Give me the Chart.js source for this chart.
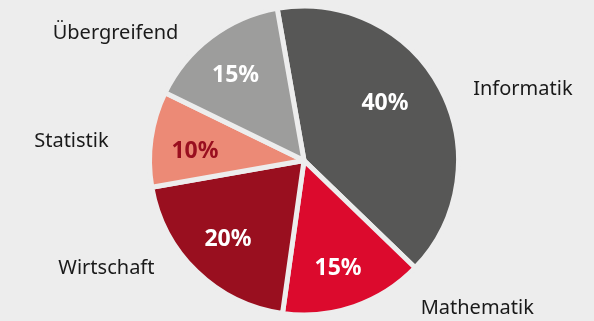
<!DOCTYPE html>
<html>
<head>
<meta charset="utf-8">
<script src="https://cdn.jsdelivr.net/npm/chart.js@4.4.0/dist/chart.umd.min.js"></script>
<style>
  html, body { margin: 0; padding: 0; background: #ededed; }
  #wrap { width: 594px; height: 321px; position: relative; }
</style>
</head>
<body>
<div id="wrap"><canvas id="pie"></canvas></div>
<script>
// data
const categories = ['Informatik', 'Mathematik', 'Wirtschaft', 'Statistik', 'Übergreifend'];
const shares = [40, 15, 20, 10, 15];

// styling
const colors = ['#575756', '#dc0a2d', '#990f1f', '#ec8a76', '#9d9d9c'];
const pctColors = ['#ffffff', '#ffffff', '#ffffff', '#990f1f', '#ffffff'];
// category label anchor, relative to pie centre in units of radius
const labelPos = [[1.44, -0.47], [1.14, 0.97], [-1.30, 0.71], [-1.53, -0.125], [-1.24, -0.84]];
// percent label: [radius fraction, angle shift in degrees]
const pctPos = [[0.65, -7], [0.745, 1.5], [0.72, 0], [0.72, -3], [0.72, -1.7]];

const labelsPlugin = {
  id: 'sliceLabels',
  afterDatasetsDraw(chart) {
    const ctx = chart.ctx;
    const arcs = chart.getDatasetMeta(0).data;
    ctx.save();
    ctx.textAlign = 'center';
    ctx.textBaseline = 'middle';
    arcs.forEach((arc, i) => {
      const { x, y, startAngle, endAngle, outerRadius } = arc.getProps(['x', 'y', 'startAngle', 'endAngle', 'outerRadius'], true);
      const R = outerRadius - 2.5;
      const mid = (startAngle + endAngle) / 2 + pctPos[i][1] * Math.PI / 180;
      const r = R * pctPos[i][0];
      ctx.font = 'bold 23px "Noto Sans"';
      ctx.fillStyle = pctColors[i];
      ctx.fillText(shares[i] + '%', x + Math.cos(mid) * r, y + Math.sin(mid) * r);

      ctx.font = '20px "Noto Sans"';
      ctx.fillStyle = '#1a1a1a';
      ctx.fillText(categories[i], x + labelPos[i][0] * R, y + labelPos[i][1] * R);
    });
    ctx.restore();
  }
};

new Chart(document.getElementById('pie'), {
  type: 'pie',
  data: {
    labels: categories,
    datasets: [{
      data: shares,
      backgroundColor: colors,
      borderColor: '#ededed',
      borderWidth: 5
    }]
  },
  options: {
    responsive: true,
    maintainAspectRatio: false,
    animation: false,
    rotation: -10,
    layout: { padding: { left: 14, right: 0, top: 3.5, bottom: 3.5 } },
    plugins: {
      legend: { display: false },
      tooltip: { enabled: false }
    }
  },
  plugins: [labelsPlugin]
});
</script>
</body>
</html>
